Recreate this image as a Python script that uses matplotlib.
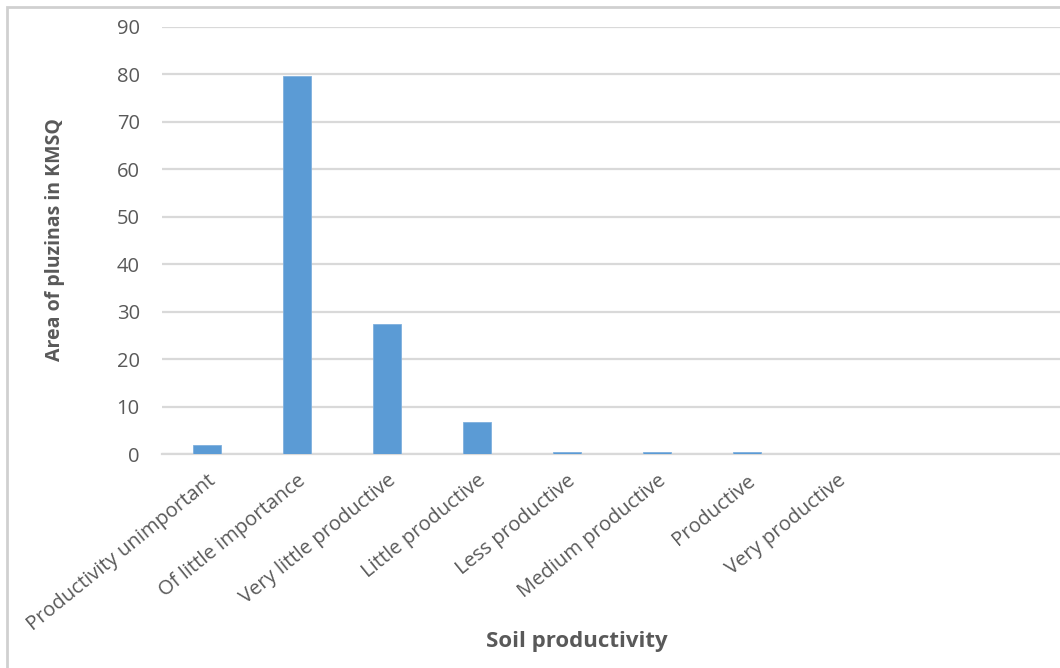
import matplotlib
matplotlib.use("Agg")
import matplotlib.pyplot as plt
from matplotlib.patches import Rectangle

# === Data: area of pluzinas per soil productivity class (km sq)
categories = [
    "Productivity unimportant",
    "Of little importance",
    "Very little productive",
    "Little productive",
    "Less productive",
    "Medium productive",
    "Productive",
    "Very productive",
    "",
    "",
]
areas = [1.9, 79.7, 27.4, 6.75, 0.5, 0.5, 0.4, 0.0, 0.0, 0.0]
y_ticks = [0, 10, 20, 30, 40, 50, 60, 70, 80, 90]

# === Style
bar_color = "#5b9bd5"
text_color = "#595959"
grid_color = "#d9d9d9"
plt.rcParams["font.family"] = ["Open Sans", "DejaVu Sans"]

fig = plt.figure(figsize=(10.6, 6.68), dpi=100)
ax = fig.add_axes([162 / 1060, 1 - 454 / 668, (1062 - 162) / 1060, (454 - 27) / 668])

x = list(range(len(categories)))
ax.bar(x, areas, width=0.31, color=bar_color, edgecolor="#7fb0de", linewidth=0.6, zorder=3)

ax.set_xlim(-0.5, len(categories) - 0.5)
ax.set_ylim(0, 90)
ax.set_yticks(y_ticks)
ax.set_xticks(x)
ax.set_xticklabels(categories, rotation=39, ha="right", rotation_mode="anchor",
                   fontsize=14.5, color=text_color)
ax.tick_params(axis="y", length=0, pad=16, labelsize=14.5, labelcolor=text_color)
ax.tick_params(axis="x", length=0, pad=12)

ax.yaxis.grid(True, color=grid_color, linewidth=1.6, zorder=0)
ax.set_axisbelow(True)
for side in ["top", "right", "left"]:
    ax.spines[side].set_visible(False)
ax.spines["bottom"].set_color(grid_color)
ax.spines["bottom"].set_linewidth(1.6)

# axis titles
fig.text(55 / 1060, 1 - 240 / 668, "Area of pluzinas in KMSQ", rotation=90,
         ha="center", va="center", fontsize=14, fontweight="bold", color=text_color)
fig.text(577 / 1060, 1 - 641 / 668, "Soil productivity", ha="center", va="center",
         fontsize=16, fontweight="bold", color=text_color)

# chart area border
fig.patches.append(Rectangle((7 / 1060, -0.05), 1.1, 1 - 7 / 668 + 0.05,
                             transform=fig.transFigure, fill=False,
                             edgecolor="#d0d0d0", linewidth=2))

fig.savefig("out.png", dpi=100)
